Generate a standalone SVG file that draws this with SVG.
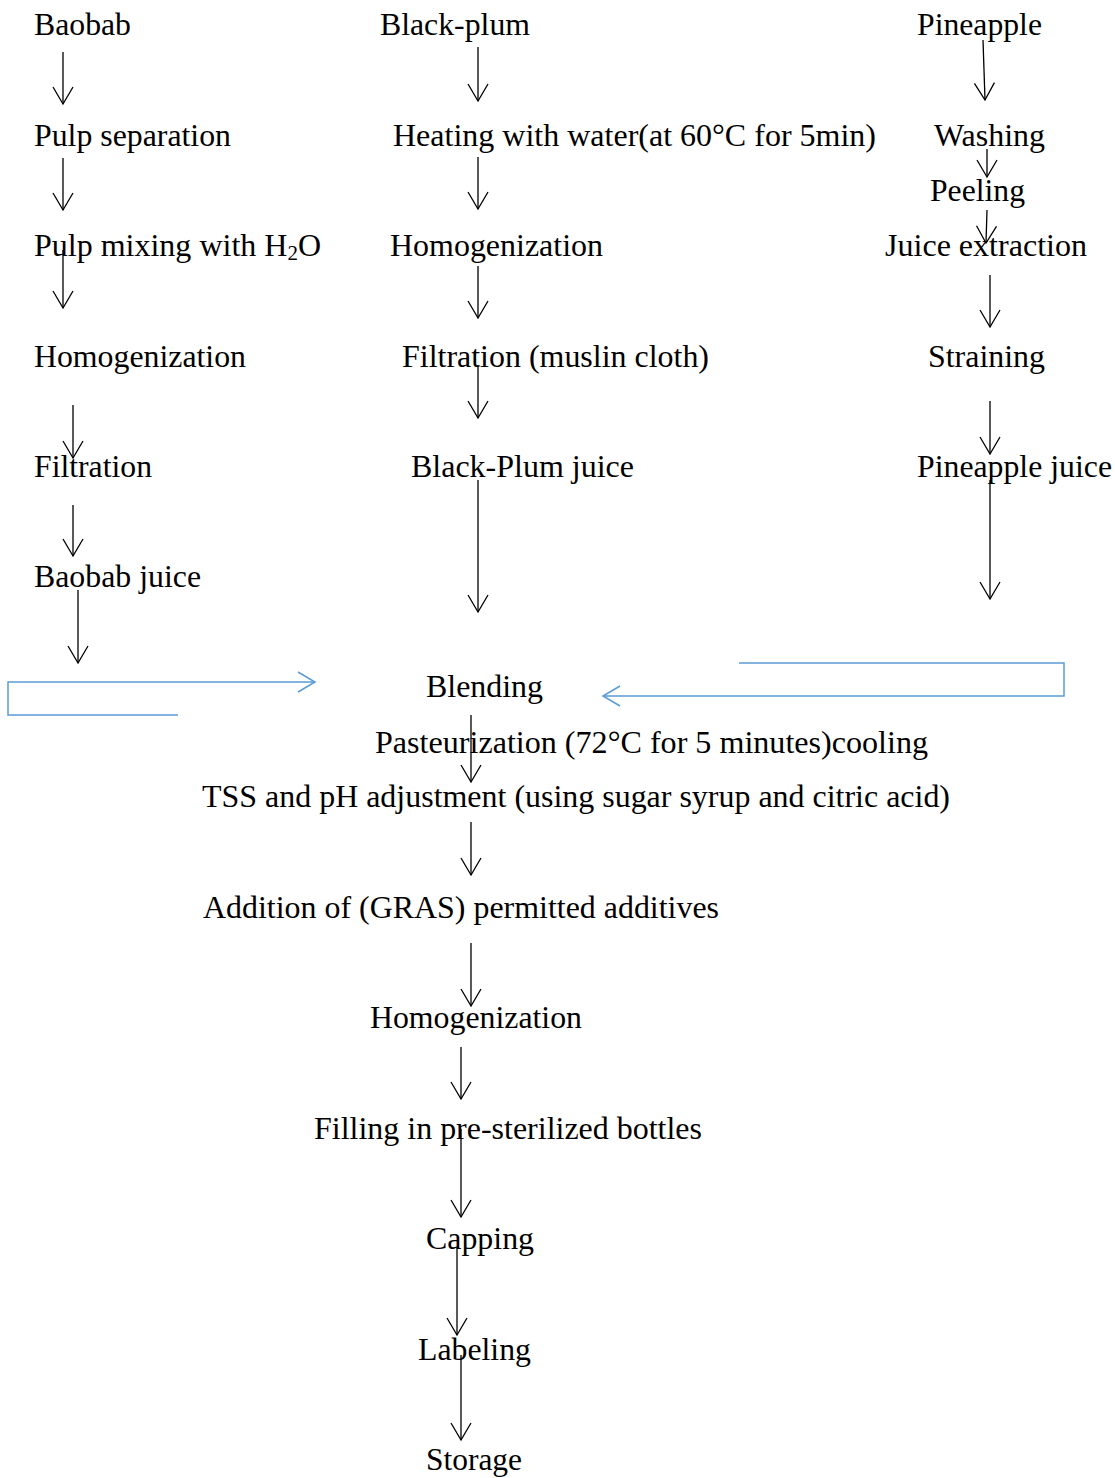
<svg xmlns="http://www.w3.org/2000/svg" width="1115" height="1478" viewBox="0 0 1115 1478">
<style>
text{font-family:"Liberation Serif","Times New Roman",serif;font-size:32px;fill:#000;}
.c{fill:none;stroke:#000;stroke-width:1.3;}
.b{fill:none;stroke:#5B9BD5;stroke-width:1.5;}
</style>
<defs>
<marker id="ah" markerUnits="userSpaceOnUse" markerWidth="30" markerHeight="30" viewBox="-20 -15 25 30" refX="0" refY="0" orient="auto">
<path d="M-17,-10 L0,0 L-17,10" fill="none" stroke="#000" stroke-width="1.3"/>
</marker>
<marker id="bh" markerUnits="userSpaceOnUse" markerWidth="30" markerHeight="30" viewBox="-20 -15 25 30" refX="0" refY="0" orient="auto">
<path d="M-17,-10 L0,0 L-17,10" fill="none" stroke="#5B9BD5" stroke-width="1.5"/>
</marker>
</defs>
<rect width="1115" height="1478" fill="#fff"/>
<g id="n-baobab"><text x="34" y="35" textLength="97" lengthAdjust="spacingAndGlyphs">Baobab</text></g>
<g id="n-pulp-sep"><text x="34" y="146" textLength="197" lengthAdjust="spacingAndGlyphs">Pulp separation</text></g>
<g id="n-pulp-mix"><text x="34" y="256" textLength="287" lengthAdjust="spacingAndGlyphs">Pulp mixing with H<tspan font-size="21" dy="4">2</tspan><tspan dy="-4">O</tspan></text></g>
<g id="n-homog1"><text x="34" y="367" textLength="212" lengthAdjust="spacingAndGlyphs">Homogenization</text></g>
<g id="n-filt1"><text x="34" y="477" textLength="118" lengthAdjust="spacingAndGlyphs">Filtration</text></g>
<g id="n-baobab-juice"><text x="34" y="587" textLength="167" lengthAdjust="spacingAndGlyphs">Baobab juice</text></g>

<g id="n-blackplum"><text x="380" y="35" textLength="150" lengthAdjust="spacingAndGlyphs">Black-plum</text></g>
<g id="n-heating"><text x="393" y="146" textLength="483" lengthAdjust="spacingAndGlyphs">Heating with water(at 60°C for 5min)</text></g>
<g id="n-homog2"><text x="390" y="256" textLength="213" lengthAdjust="spacingAndGlyphs">Homogenization</text></g>
<g id="n-filt2"><text x="402" y="367" textLength="307" lengthAdjust="spacingAndGlyphs">Filtration (muslin cloth)</text></g>
<g id="n-bp-juice"><text x="411" y="477" textLength="223" lengthAdjust="spacingAndGlyphs">Black-Plum juice</text></g>

<g id="n-pineapple"><text x="917" y="35" textLength="125" lengthAdjust="spacingAndGlyphs">Pineapple</text></g>
<g id="n-washing"><text x="934" y="146" textLength="111" lengthAdjust="spacingAndGlyphs">Washing</text></g>
<g id="n-peeling"><text x="930" y="201" textLength="95" lengthAdjust="spacingAndGlyphs">Peeling</text></g>
<g id="n-juice-ext"><text x="885" y="256" textLength="202" lengthAdjust="spacingAndGlyphs">Juice extraction</text></g>
<g id="n-straining"><text x="928" y="367" textLength="117" lengthAdjust="spacingAndGlyphs">Straining</text></g>
<g id="n-pa-juice"><text x="917" y="477" textLength="195" lengthAdjust="spacingAndGlyphs">Pineapple juice</text></g>

<g id="n-blending"><text x="426" y="697" textLength="117" lengthAdjust="spacingAndGlyphs">Blending</text></g>
<g id="n-pasteur"><text x="375" y="753" textLength="553" lengthAdjust="spacingAndGlyphs">Pasteurization (72°C for 5 minutes)cooling</text></g>
<g id="n-tss"><text x="202" y="807" textLength="748" lengthAdjust="spacingAndGlyphs">TSS and pH adjustment (using sugar syrup and citric acid)</text></g>
<g id="n-additives"><text x="203" y="918" textLength="516" lengthAdjust="spacingAndGlyphs">Addition of (GRAS) permitted additives</text></g>
<g id="n-homog3"><text x="370" y="1028" textLength="212" lengthAdjust="spacingAndGlyphs">Homogenization</text></g>
<g id="n-filling"><text x="314" y="1139" textLength="388" lengthAdjust="spacingAndGlyphs">Filling in pre-sterilized bottles</text></g>
<g id="n-capping"><text x="426" y="1249" textLength="108" lengthAdjust="spacingAndGlyphs">Capping</text></g>
<g id="n-labeling"><text x="418" y="1360" textLength="113" lengthAdjust="spacingAndGlyphs">Labeling</text></g>
<g id="n-storage"><text x="426" y="1470" textLength="96" lengthAdjust="spacingAndGlyphs">Storage</text></g>

<g id="connectors">
<line class="c" x1="63" y1="52" x2="63" y2="104" marker-end="url(#ah)"/>
<line class="c" x1="63" y1="158" x2="63" y2="210" marker-end="url(#ah)"/>
<line class="c" x1="63" y1="250" x2="63" y2="308" marker-end="url(#ah)"/>
<line class="c" x1="73" y1="405" x2="73" y2="458" marker-end="url(#ah)"/>
<line class="c" x1="73" y1="505" x2="73" y2="556" marker-end="url(#ah)"/>
<line class="c" x1="78" y1="590" x2="78" y2="663" marker-end="url(#ah)"/>

<line class="c" x1="478" y1="47" x2="478" y2="101" marker-end="url(#ah)"/>
<line class="c" x1="478" y1="157" x2="478" y2="209" marker-end="url(#ah)"/>
<line class="c" x1="478" y1="266" x2="478" y2="318" marker-end="url(#ah)"/>
<line class="c" x1="478" y1="365" x2="478" y2="418" marker-end="url(#ah)"/>
<line class="c" x1="478" y1="480" x2="478" y2="612" marker-end="url(#ah)"/>

<line class="c" x1="983" y1="40" x2="985" y2="100" marker-end="url(#ah)"/>
<line class="c" x1="987" y1="149" x2="987" y2="177" marker-end="url(#ah)"/>
<line class="c" x1="987" y1="210" x2="986" y2="243" marker-end="url(#ah)"/>
<line class="c" x1="990" y1="275" x2="990" y2="327" marker-end="url(#ah)"/>
<line class="c" x1="990" y1="401" x2="990" y2="454" marker-end="url(#ah)"/>
<line class="c" x1="990" y1="480" x2="990" y2="599" marker-end="url(#ah)"/>

<line class="c" x1="471" y1="715" x2="471" y2="782" marker-end="url(#ah)"/>
<line class="c" x1="471" y1="822" x2="471" y2="875" marker-end="url(#ah)"/>
<line class="c" x1="471" y1="943" x2="471" y2="1006" marker-end="url(#ah)"/>
<line class="c" x1="461" y1="1047" x2="461" y2="1099" marker-end="url(#ah)"/>
<line class="c" x1="461" y1="1129" x2="461" y2="1217" marker-end="url(#ah)"/>
<line class="c" x1="457" y1="1247" x2="457" y2="1335" marker-end="url(#ah)"/>
<line class="c" x1="461" y1="1355" x2="461" y2="1440" marker-end="url(#ah)"/>

<polyline class="b" points="178,715 8,715 8,682 315,682" marker-end="url(#bh)"/>
<polyline class="b" points="739,663 1064,663 1064,696 603,696" marker-end="url(#bh)"/>
</g>
</svg>
